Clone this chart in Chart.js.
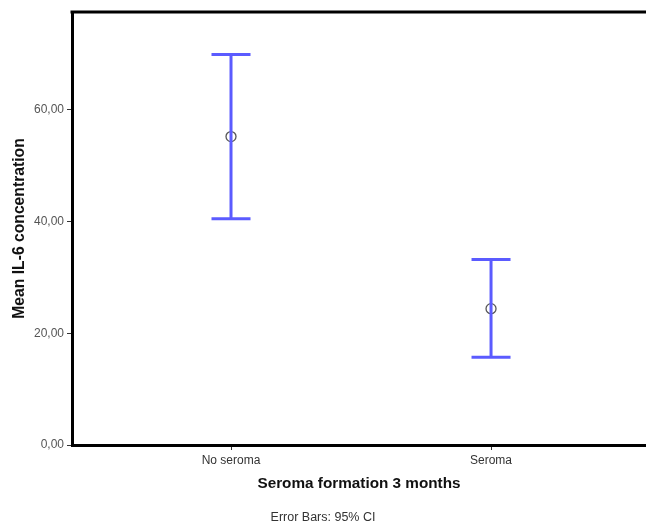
<!DOCTYPE html>
<html>
<head>
<meta charset="utf-8">
<script src="https://cdn.jsdelivr.net/npm/chart.js@4/dist/chart.umd.min.js"></script>
<style>
  html, body { margin: 0; padding: 0; background: #fff; }
  #wrap { width: 646px; height: 526px; }
</style>
</head>
<body>
<div id="wrap"><canvas id="chart"></canvas></div>
<script>
const groups = ['No seroma', 'Seroma'];
const groupX = [1, 2];
const means = [55.2, 24.4];
const ciLow = [40.5, 15.7];
const ciHigh = [69.9, 33.2];
const yTicks = [0, 20, 40, 60];

const barBlue = '#5b5bff';

const datasets = [];
groups.forEach((g, i) => {
    // whisker
    datasets.push({
        data: [{x: groupX[i], y: ciLow[i]}, {x: groupX[i], y: ciHigh[i]}],
        showLine: true,
        borderColor: barBlue,
        borderWidth: 3,
        pointRadius: 0
    });
    // caps
    datasets.push({
        data: [{x: groupX[i], y: ciLow[i]}, {x: groupX[i], y: ciHigh[i]}],
        pointStyle: 'line',
        pointRadius: 19.5,
        pointBorderWidth: 3,
        pointBorderColor: barBlue,
        borderColor: barBlue
    });
});
// means
datasets.push({
    data: groups.map((g, i) => ({x: groupX[i], y: means[i]})),
    pointStyle: 'circle',
    pointRadius: 5,
    pointBorderWidth: 1.3,
    pointBorderColor: '#555',
    pointBackgroundColor: 'rgba(0,0,0,0)'
});

const topBorder = {
    id: 'topBorder',
    afterDraw(chart) {
        const {ctx, chartArea} = chart;
        ctx.save();
        ctx.strokeStyle = '#000';
        ctx.lineWidth = 3;
        ctx.beginPath();
        ctx.moveTo(chartArea.left - 1.5, chartArea.top);
        ctx.lineTo(chartArea.right, chartArea.top);
        ctx.stroke();
        ctx.restore();
    }
};

new Chart(document.getElementById('chart'), {
    type: 'scatter',
    data: {datasets},
    plugins: [topBorder],
    options: {
        responsive: true,
        maintainAspectRatio: false,
        animation: false,
        layout: {autoPadding: false, padding: {top: 12, right: 0, left: 0, bottom: 0}},
        plugins: {
            legend: {display: false},
            tooltip: {enabled: false},
            subtitle: {
                display: true,
                position: 'bottom',
                text: 'Error Bars: 95% CI',
                color: '#333',
                font: {family: 'Liberation Sans', size: 12.5, weight: 'normal'},
                padding: {top: 4, bottom: 1}
            }
        },
        scales: {
            x: {
                type: 'linear',
                min: 0.3885,
                max: 2.596,
                afterFit: (s) => { s.height = 61; },
                afterBuildTicks: (s) => { s.ticks = groupX.map(v => ({value: v})); },
                grid: {display: true, drawOnChartArea: false, drawTicks: true, tickLength: 5, color: '#333'},
                border: {display: true, color: '#000', width: 3},
                ticks: {
                    callback: (v) => groups[groupX.indexOf(v)] || '',
                    color: '#333',
                    padding: 3,
                    maxRotation: 0,
                    font: {family: 'Liberation Sans', size: 12}
                },
                title: {
                    display: true,
                    text: 'Seroma formation 3 months',
                    color: '#111',
                    font: {family: 'Liberation Sans', size: 15.3, weight: 'bold'},
                    padding: {top: 0, bottom: 13}
                }
            },
            y: {
                min: 0,
                max: 77.5,
                afterFit: (s) => { s.width = 72; },
                afterBuildTicks: (s) => { s.ticks = yTicks.map(v => ({value: v})); },
                grid: {display: true, drawOnChartArea: false, drawTicks: true, tickLength: 5, color: '#333'},
                border: {display: true, color: '#000', width: 3},
                ticks: {
                    callback: (v) => v.toFixed(2).replace('.', ','),
                    color: '#555',
                    padding: 3,
                    font: {family: 'Liberation Sans', size: 12}
                },
                title: {
                    display: true,
                    text: 'Mean IL-6 concentration',
                    color: '#111',
                    font: {family: 'Liberation Sans', size: 15.7, weight: 'bold'},
                    padding: {top: 10, bottom: 0}
                }
            }
        }
    }
});
</script>
</body>
</html>
